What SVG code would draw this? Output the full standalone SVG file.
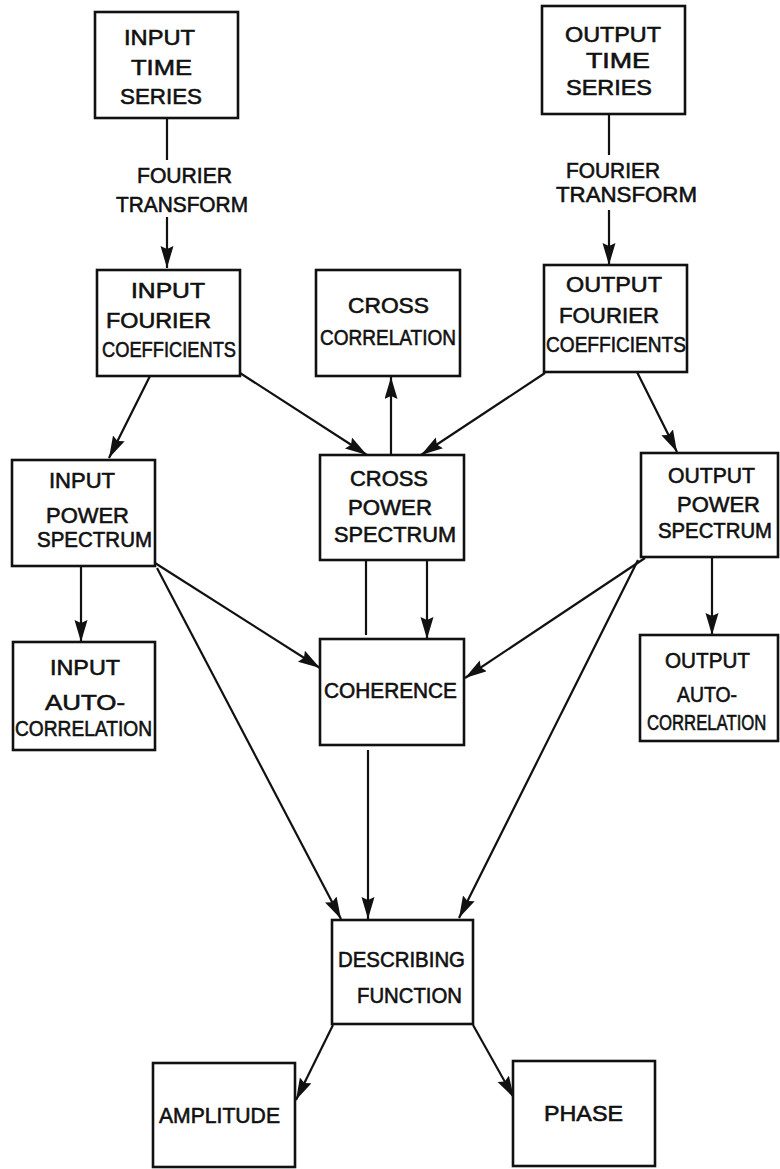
<svg xmlns="http://www.w3.org/2000/svg" width="780" height="1169" viewBox="0 0 780 1169">
<style>
.box{fill:#fff;stroke:#111;stroke-width:2.6}
.ln{fill:none;stroke:#111;stroke-width:2.2}
.ar{marker-end:url(#ah)}
text{font-family:"Liberation Sans","DejaVu Sans",sans-serif;font-size:22px;fill:#111;stroke:#111;stroke-width:0.6}
</style>
<defs>
<marker id="ah" markerUnits="userSpaceOnUse" markerWidth="24" markerHeight="14" refX="22" refY="6.5" orient="auto">
<path d="M0,0 L22,6.5 L0,13 L3,6.5 z" fill="#111"/>
</marker>
</defs>
<rect width="780" height="1169" fill="#fff"/>
<g id="connectors">
<line class="ln" x1="167" y1="118" x2="167" y2="160"/>
<line class="ln ar" x1="167" y1="217" x2="167" y2="268"/>
<line class="ln" x1="609" y1="114" x2="609" y2="155"/>
<line class="ln ar" x1="609" y1="210" x2="609" y2="265"/>
<line class="ln ar" x1="150" y1="376" x2="109" y2="458"/>
<line class="ln ar" x1="240" y1="373" x2="367" y2="455"/>
<line class="ln ar" x1="391" y1="455" x2="391" y2="377"/>
<line class="ln ar" x1="545" y1="373" x2="421" y2="455"/>
<line class="ln ar" x1="637" y1="372" x2="677" y2="452"/>
<line class="ln ar" x1="81" y1="566" x2="81" y2="642"/>
<line class="ln ar" x1="712" y1="557" x2="712" y2="635"/>
<line class="ln" x1="366" y1="560" x2="366" y2="635"/>
<line class="ln ar" x1="427" y1="560" x2="427" y2="639"/>
<line class="ln ar" x1="155" y1="563" x2="320" y2="668"/>
<line class="ln ar" x1="645" y1="558" x2="465" y2="678"/>
<line class="ln ar" x1="157" y1="568" x2="341" y2="919"/>
<line class="ln ar" x1="368" y1="750" x2="368" y2="919"/>
<line class="ln ar" x1="638" y1="560" x2="459" y2="918"/>
<line class="ln ar" x1="333" y1="1025" x2="296" y2="1100"/>
<line class="ln ar" x1="473" y1="1025" x2="514" y2="1098"/>
<text x="137" y="183" textLength="95" lengthAdjust="spacingAndGlyphs">FOURIER</text>
<text x="116" y="212" textLength="132" lengthAdjust="spacingAndGlyphs">TRANSFORM</text>
<text x="566" y="178" textLength="94" lengthAdjust="spacingAndGlyphs">FOURIER</text>
<text x="556" y="202" textLength="141" lengthAdjust="spacingAndGlyphs">TRANSFORM</text>
</g>
<g id="input-time-series">
<rect class="box" x="95" y="12" width="143" height="106"/>
<text x="124" y="45" textLength="71" lengthAdjust="spacingAndGlyphs">INPUT</text>
<text x="131" y="75" textLength="61" lengthAdjust="spacingAndGlyphs">TIME</text>
<text x="120" y="104" textLength="82" lengthAdjust="spacingAndGlyphs">SERIES</text>
</g>
<g id="output-time-series">
<rect class="box" x="542" y="6" width="143" height="108"/>
<text x="565" y="42" textLength="96" lengthAdjust="spacingAndGlyphs">OUTPUT</text>
<text x="586" y="68" textLength="64" lengthAdjust="spacingAndGlyphs">TIME</text>
<text x="566" y="95" textLength="86" lengthAdjust="spacingAndGlyphs">SERIES</text>
</g>
<g id="input-fourier-coefficients">
<rect class="box" x="97" y="270" width="143" height="106"/>
<text x="131" y="298" textLength="74" lengthAdjust="spacingAndGlyphs">INPUT</text>
<text x="106" y="328" textLength="105" lengthAdjust="spacingAndGlyphs">FOURIER</text>
<text x="102" y="357" textLength="134" lengthAdjust="spacingAndGlyphs">COEFFICIENTS</text>
</g>
<g id="cross-correlation">
<rect class="box" x="316" y="270" width="144" height="106"/>
<text x="348" y="313" textLength="81" lengthAdjust="spacingAndGlyphs">CROSS</text>
<text x="320" y="345" textLength="136" lengthAdjust="spacingAndGlyphs">CORRELATION</text>
</g>
<g id="output-fourier-coefficients">
<rect class="box" x="544" y="265" width="143" height="107"/>
<text x="566" y="292" textLength="96" lengthAdjust="spacingAndGlyphs">OUTPUT</text>
<text x="559" y="323" textLength="100" lengthAdjust="spacingAndGlyphs">FOURIER</text>
<text x="546" y="352" textLength="140" lengthAdjust="spacingAndGlyphs">COEFFICIENTS</text>
</g>
<g id="input-power-spectrum">
<rect class="box" x="12" y="460" width="143" height="106"/>
<text x="49" y="488" textLength="66" lengthAdjust="spacingAndGlyphs">INPUT</text>
<text x="46" y="523" textLength="83" lengthAdjust="spacingAndGlyphs">POWER</text>
<text x="37" y="547" textLength="115" lengthAdjust="spacingAndGlyphs">SPECTRUM</text>
</g>
<g id="cross-power-spectrum">
<rect class="box" x="320" y="455" width="144" height="105"/>
<text x="350" y="486" textLength="78" lengthAdjust="spacingAndGlyphs">CROSS</text>
<text x="348" y="515" textLength="84" lengthAdjust="spacingAndGlyphs">POWER</text>
<text x="334" y="542" textLength="122" lengthAdjust="spacingAndGlyphs">SPECTRUM</text>
</g>
<g id="output-power-spectrum">
<rect class="box" x="641" y="453" width="137" height="104"/>
<text x="658" y="538" textLength="114" lengthAdjust="spacingAndGlyphs">SPECTRUM</text>
<text x="668" y="483" textLength="87" lengthAdjust="spacingAndGlyphs">OUTPUT</text>
<text x="677" y="512" textLength="83" lengthAdjust="spacingAndGlyphs">POWER</text>
</g>
<g id="input-autocorrelation">
<rect class="box" x="13" y="642" width="142" height="108"/>
<text x="50" y="675" textLength="70" lengthAdjust="spacingAndGlyphs">INPUT</text>
<text x="45" y="710" textLength="80" lengthAdjust="spacingAndGlyphs">AUTO-</text>
<text x="15" y="736" textLength="137" lengthAdjust="spacingAndGlyphs">CORRELATION</text>
</g>
<g id="coherence">
<rect class="box" x="320" y="639" width="144" height="106"/>
<text x="324" y="698" textLength="133" lengthAdjust="spacingAndGlyphs">COHERENCE</text>
</g>
<g id="output-autocorrelation">
<rect class="box" x="640" y="635" width="138" height="106"/>
<text x="665" y="668" textLength="85" lengthAdjust="spacingAndGlyphs">OUTPUT</text>
<text x="677" y="702" textLength="60" lengthAdjust="spacingAndGlyphs">AUTO-</text>
<text transform="translate(647,730) scale(0.76,1)" x="0" y="0">CORRELATION</text>
</g>
<g id="describing-function">
<rect class="box" x="332" y="920" width="141" height="104"/>
<text x="338" y="967" textLength="127" lengthAdjust="spacingAndGlyphs">DESCRIBING</text>
<text x="357" y="1003" textLength="105" lengthAdjust="spacingAndGlyphs">FUNCTION</text>
</g>
<g id="amplitude">
<rect class="box" x="153" y="1063" width="142" height="104"/>
<text x="159" y="1123" textLength="121" lengthAdjust="spacingAndGlyphs">AMPLITUDE</text>
</g>
<g id="phase">
<rect class="box" x="513" y="1061" width="142" height="105"/>
<text x="544" y="1121" textLength="79" lengthAdjust="spacingAndGlyphs">PHASE</text>
</g>
</svg>
